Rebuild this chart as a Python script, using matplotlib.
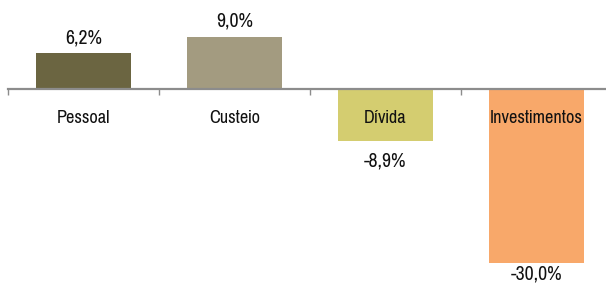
import matplotlib.pyplot as plt

categories = ['Pessoal', 'Custeio', 'Dívida', 'Investimentos']
values = [6.2, 9.0, -8.9, -30.0]
labels = ['6,2%', '9,0%', '-8,9%', '-30,0%']
colors = ['#6b6541', '#a39b80', '#d4cd70', '#f8a86a']

plt.rcParams['font.family'] = ['Pragati Narrow', 'Roboto Condensed', 'DejaVu Sans']

DPI = 100
px = 72 / DPI  # pontos por pixel

fig = plt.figure(figsize=(6.06, 2.90), dpi=DPI)
ax = fig.add_axes([8 / 606, 0, 604 / 606, 1])

x = list(range(len(categories)))
ax.bar(x, values, width=0.63, color=colors, zorder=2)

ymin, ymax = -34.66, 15.34
ax.set_xlim(-0.5, 3.5)
ax.set_ylim(ymin, ymax)

for s in ['top', 'right', 'left']:
    ax.spines[s].set_visible(False)
ax.spines['bottom'].set_position(('data', 0))
ax.spines['bottom'].set_color('#8c8c8c')
ax.spines['bottom'].set_linewidth(1.6)
ax.spines['bottom'].set_zorder(3)
ax.set_yticks([])
ax.set_xticks([-0.5, 0.5, 1.5, 2.5, 3.5])
ax.tick_params(axis='x', direction='out', length=4, width=1, color='#8c8c8c', labelbottom=False)

# rótulos das categorias abaixo do eixo
for xi, cat in zip(x, categories):
    ax.annotate(cat, (xi, 0), xytext=(0, -34 * px), textcoords='offset points',
                ha='center', va='baseline', fontsize=14.3, color='#111111', zorder=4)

# rótulos dos valores (os negativos ficam presos dentro da área do gráfico)
h = 290
for xi, v, lab in zip(x, values, labels):
    if v > 0:
        ax.annotate(lab, (xi, v), xytext=(0, 10 * px), textcoords='offset points',
                    ha='center', va='baseline', fontsize=15.5, color='#111111')
    else:
        from_bottom = (v - ymin) / (ymax - ymin) * h - 26
        from_bottom = max(from_bottom, 11)
        ax.annotate(lab, (xi, 0), xycoords=('data', 'axes fraction'),
                    xytext=(0, from_bottom * px), textcoords='offset points',
                    ha='center', va='baseline', fontsize=15.5, color='#111111')

plt.savefig('out.png', dpi=DPI)
